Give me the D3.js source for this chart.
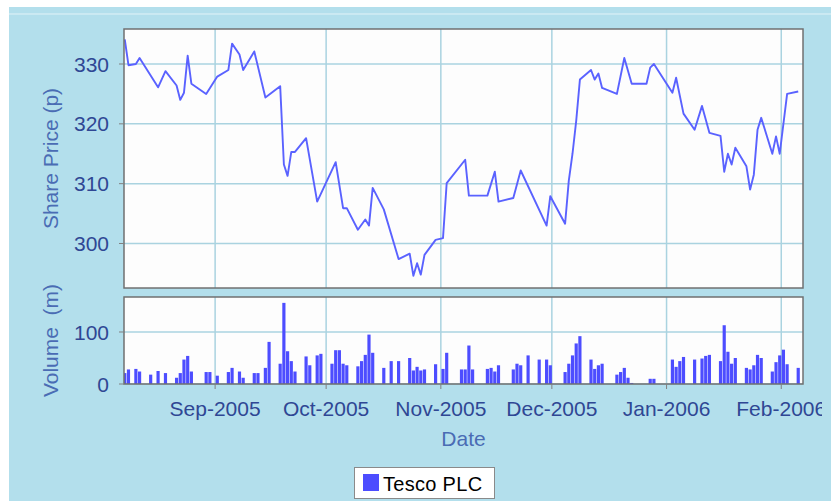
<!DOCTYPE html>
<html>
<head>
<meta charset="utf-8">
<title>Tesco PLC - Price and Volume</title>
<script src="https://cdn.jsdelivr.net/npm/d3@7"></script>
<style>
  body { margin: 0; background: #ffffff; }
  svg { display: block; font-family: "Liberation Sans", Arial, sans-serif; }
</style>
</head>
<body>
<div id="chart"></div>
<script>
// price series (only the days that show up as vertices on the line)
const priceDates = [
  "2005-08-08", "2005-08-09", "2005-08-11", "2005-08-12", "2005-08-17", "2005-08-19",
  "2005-08-22", "2005-08-23", "2005-08-24", "2005-08-25", "2005-08-26", "2005-08-30",
  "2005-09-02", "2005-09-05", "2005-09-06", "2005-09-08", "2005-09-09", "2005-09-12",
  "2005-09-15", "2005-09-19", "2005-09-20", "2005-09-21", "2005-09-22", "2005-09-23",
  "2005-09-26", "2005-09-29", "2005-10-04", "2005-10-06", "2005-10-07", "2005-10-10",
  "2005-10-12", "2005-10-13", "2005-10-14", "2005-10-17", "2005-10-21", "2005-10-24",
  "2005-10-25", "2005-10-26", "2005-10-27", "2005-10-28", "2005-10-31", "2005-11-02",
  "2005-11-03", "2005-11-08", "2005-11-09", "2005-11-14", "2005-11-16", "2005-11-17",
  "2005-11-21", "2005-11-23", "2005-11-30", "2005-12-01", "2005-12-05", "2005-12-06",
  "2005-12-07", "2005-12-08", "2005-12-09", "2005-12-12", "2005-12-13", "2005-12-14",
  "2005-12-15", "2005-12-19", "2005-12-21", "2005-12-23", "2005-12-27", "2005-12-28",
  "2005-12-29", "2006-01-03", "2006-01-04", "2006-01-06", "2006-01-09", "2006-01-11",
  "2006-01-13", "2006-01-16", "2006-01-17", "2006-01-18", "2006-01-19", "2006-01-20",
  "2006-01-23", "2006-01-24", "2006-01-25", "2006-01-26", "2006-01-27", "2006-01-30",
  "2006-01-31", "2006-02-01", "2006-02-03", "2006-02-06"
];
const priceValues = [
  334.1, 329.8, 330.0, 331.0, 326.1, 328.8,
  326.4, 324.0, 325.2, 331.4, 326.7, 325.0,
  327.9, 329.0, 333.4, 331.6, 329.0, 332.1,
  324.4, 326.3, 313.2, 311.3, 315.3, 315.3,
  317.6, 307.0, 313.6, 305.9, 305.9, 302.3,
  304.0, 303.0, 309.3, 305.7, 297.4, 298.3,
  294.6, 296.7, 294.8, 298.1, 300.6, 300.9,
  310.1, 314.0, 308.0, 308.0, 312.0, 307.0,
  307.6, 312.2, 303.0, 307.9, 303.3, 310.5,
  315.0, 320.5, 327.4, 329.0, 327.4, 328.4,
  326.0, 325.0, 331.0, 326.7, 326.7, 329.4,
  330.0, 325.2, 327.7, 321.7, 319.0, 323.0,
  318.5, 318.0, 312.0, 315.0, 313.2, 316.0,
  312.9, 309.0, 311.5, 319.0, 321.0, 315.0,
  317.9, 315.0, 325.0, 325.4
];

// volume series (millions of shares)
const volumeDates = [
  "2005-08-08", "2005-08-09", "2005-08-11", "2005-08-12", "2005-08-15", "2005-08-17",
  "2005-08-19", "2005-08-22", "2005-08-23", "2005-08-24", "2005-08-25", "2005-08-26",
  "2005-08-30", "2005-08-31", "2005-09-02", "2005-09-05", "2005-09-06", "2005-09-08",
  "2005-09-09", "2005-09-12", "2005-09-13", "2005-09-15", "2005-09-16", "2005-09-19",
  "2005-09-20", "2005-09-21", "2005-09-22", "2005-09-23", "2005-09-26", "2005-09-27",
  "2005-09-29", "2005-09-30", "2005-10-03", "2005-10-04", "2005-10-05", "2005-10-06",
  "2005-10-07", "2005-10-10", "2005-10-11", "2005-10-12", "2005-10-13", "2005-10-14",
  "2005-10-17", "2005-10-19", "2005-10-21", "2005-10-24", "2005-10-25", "2005-10-26",
  "2005-10-27", "2005-10-28", "2005-10-31", "2005-11-02", "2005-11-03", "2005-11-07",
  "2005-11-08", "2005-11-09", "2005-11-10", "2005-11-14", "2005-11-15", "2005-11-16",
  "2005-11-17", "2005-11-21", "2005-11-22", "2005-11-23", "2005-11-25", "2005-11-28",
  "2005-11-30", "2005-12-01", "2005-12-05", "2005-12-06", "2005-12-07", "2005-12-08",
  "2005-12-09", "2005-12-12", "2005-12-13", "2005-12-14", "2005-12-15", "2005-12-19",
  "2005-12-20", "2005-12-21", "2005-12-22", "2005-12-23", "2005-12-28", "2005-12-29",
  "2006-01-03", "2006-01-04", "2006-01-05", "2006-01-06", "2006-01-09", "2006-01-11",
  "2006-01-12", "2006-01-13", "2006-01-16", "2006-01-17", "2006-01-18", "2006-01-19",
  "2006-01-20", "2006-01-23", "2006-01-24", "2006-01-25", "2006-01-26", "2006-01-27",
  "2006-01-30", "2006-01-31", "2006-02-01", "2006-02-02", "2006-02-03", "2006-02-06"
];
const volumeValues = [
  21, 28, 29, 24, 18, 25,
  21, 12, 21, 47, 54, 24,
  23, 23, 16, 23, 31, 24,
  12, 21, 21, 31, 81, 39,
  156, 63, 44, 24, 53, 36,
  55, 58, 39, 65, 65, 39,
  36, 34, 44, 56, 95, 60,
  31, 44, 44, 50, 26, 33,
  26, 28, 38, 29, 60, 28,
  28, 74, 28, 29, 31, 24,
  36, 28, 39, 36, 55, 47,
  47, 36, 23, 39, 55, 78,
  92, 47, 29, 36, 39, 18,
  23, 31, 12, 2, 10, 10,
  47, 33, 44, 52, 47, 49,
  54, 56, 44, 113, 62, 39,
  50, 31, 28, 36, 56, 50,
  24, 42, 55, 66, 38, 31
];

const priceTicks = [300, 310, 320, 330];
const volumeTicks = [0, 100];
const seriesName = "Tesco PLC";

const W = 831, H = 501;
const plotLeft = 124, plotRight = 803;
const priceTop = 29, priceBottom = 288;
const volTop = 297, volBottom = 384;
const DAY = 864e5;

const parse = d3.utcParse("%Y-%m-%d");
const prices = priceDates.map((d, i) => ({ date: parse(d), value: priceValues[i] }));
const volumes = volumeDates.map((d, i) => ({ date: parse(d), value: volumeValues[i] }));

const svg = d3.select("#chart").append("svg")
  .attr("width", W).attr("height", H);

// background panel
svg.append("rect").attr("x", 9).attr("y", 7).attr("width", W - 9).attr("height", H - 7)
  .attr("fill", "#b3dfec");
svg.append("line").attr("x1", 9).attr("x2", W).attr("y1", 14).attr("y2", 14)
  .attr("stroke", "#e2f3f8").attr("stroke-width", 1);

const x = d3.scaleUtc()
  .domain([Date.UTC(2005, 7, 7, 19), Date.UTC(2006, 1, 7, 7)])
  .range([plotLeft, plotRight]);

// month gridlines (chart ticks sit a few hours after midnight)
const monthTicks = d3.utcMonth.range(new Date(Date.UTC(2005, 8, 1)), new Date(Date.UTC(2006, 1, 2)))
  .map(m => new Date(+m + 10 * 3600e3));

const yPrice = d3.scaleLinear().domain([292.56, 335.85]).range([priceBottom, priceTop]);
const yVol = d3.scaleLinear().domain([0, 167.3]).range([volBottom, volTop]);

const gridColor = "#aad3e0";
const tickColor = "#2f4794";
const labelColor = "#4a6cb4";
const borderColor = "#707070";

function plotBox(top, bottom) {
  svg.append("rect")
    .attr("x", plotLeft).attr("y", top)
    .attr("width", plotRight - plotLeft).attr("height", bottom - top)
    .attr("fill", "#fdfdfd");
}
plotBox(priceTop, priceBottom);
plotBox(volTop, volBottom);

// gridlines
function vGrid(top, bottom) {
  svg.append("g").selectAll("line").data(monthTicks).join("line")
    .attr("x1", d => x(d)).attr("x2", d => x(d))
    .attr("y1", top).attr("y2", bottom)
    .attr("stroke", gridColor).attr("stroke-width", 1.5);
}
vGrid(priceTop, priceBottom);
vGrid(volTop, volBottom);

svg.append("g").selectAll("line").data(priceTicks).join("line")
  .attr("x1", plotLeft).attr("x2", plotRight)
  .attr("y1", d => yPrice(d)).attr("y2", d => yPrice(d))
  .attr("stroke", gridColor).attr("stroke-width", 1.5);
svg.append("g").selectAll("line").data(volumeTicks).join("line")
  .attr("x1", plotLeft).attr("x2", plotRight)
  .attr("y1", d => yVol(d)).attr("y2", d => yVol(d))
  .attr("stroke", gridColor).attr("stroke-width", 1.5);

// clip paths
svg.append("clipPath").attr("id", "clipPrice").append("rect")
  .attr("x", plotLeft).attr("y", priceTop)
  .attr("width", plotRight - plotLeft).attr("height", priceBottom - priceTop);
svg.append("clipPath").attr("id", "clipVol").append("rect")
  .attr("x", plotLeft).attr("y", volTop)
  .attr("width", plotRight - plotLeft).attr("height", volBottom - volTop);
svg.append("clipPath").attr("id", "clipLabels").append("rect")
  .attr("x", 0).attr("y", 0).attr("width", 822).attr("height", H);

// price line
const line = d3.line().x(d => x(d.date)).y(d => yPrice(d.value));
svg.append("path")
  .datum(prices)
  .attr("clip-path", "url(#clipPrice)")
  .attr("d", line)
  .attr("fill", "none")
  .attr("stroke", "#5a62ff")
  .attr("stroke-width", 1.9)
  .attr("stroke-linejoin", "round");

// volume bars, one day wide, centred on the date
const barW = (x(new Date(DAY)) - x(new Date(0))) * 0.86;
svg.append("g").attr("clip-path", "url(#clipVol)")
  .selectAll("rect").data(volumes).join("rect")
  .attr("x", d => x(d.date) - barW / 2)
  .attr("y", d => yVol(d.value))
  .attr("width", barW)
  .attr("height", d => yVol(0) - yVol(d.value))
  .attr("fill", "#4d4dff");

// plot borders
[[priceTop, priceBottom], [volTop, volBottom]].forEach(([t, b]) => {
  svg.append("rect")
    .attr("x", plotLeft).attr("y", t)
    .attr("width", plotRight - plotLeft).attr("height", b - t)
    .attr("fill", "none").attr("stroke", borderColor).attr("stroke-width", 1.5);
});

// y axes
function yAxis(scale, ticks) {
  const g = svg.append("g");
  g.selectAll("line").data(ticks).join("line")
    .attr("x1", plotLeft - 5).attr("x2", plotLeft)
    .attr("y1", d => scale(d)).attr("y2", d => scale(d))
    .attr("stroke", "#808080").attr("stroke-width", 1);
  g.selectAll("text").data(ticks).join("text")
    .attr("x", 109).attr("y", d => scale(d))
    .attr("dy", "0.36em")
    .attr("text-anchor", "end")
    .attr("font-size", 21)
    .attr("fill", tickColor)
    .text(d => d);
}
yAxis(yPrice, priceTicks);
yAxis(yVol, volumeTicks);

// x axis
const xg = svg.append("g");
xg.selectAll("line").data(monthTicks).join("line")
  .attr("x1", d => x(d)).attr("x2", d => x(d))
  .attr("y1", volBottom).attr("y2", volBottom + 5)
  .attr("stroke", "#808080");
xg.append("g").attr("clip-path", "url(#clipLabels)")
  .selectAll("text").data(monthTicks).join("text")
  .attr("x", d => x(d)).attr("y", 415.5)
  .attr("text-anchor", "middle")
  .attr("font-size", 21)
  .attr("fill", tickColor)
  .text(d => d3.utcFormat("%b-%Y")(d));

// axis titles
svg.append("text")
  .attr("transform", `translate(58,${(priceTop + priceBottom) / 2}) rotate(-90)`)
  .attr("text-anchor", "middle")
  .attr("font-size", 21)
  .attr("fill", labelColor)
  .text("Share Price (p)");
svg.append("text")
  .attr("transform", `translate(58,${(volTop + volBottom) / 2}) rotate(-90)`)
  .attr("text-anchor", "middle")
  .attr("font-size", 21)
  .attr("fill", labelColor)
  .style("white-space", "pre")
  .text("Volume  (m)");
svg.append("text")
  .attr("x", (plotLeft + plotRight) / 2).attr("y", 446)
  .attr("text-anchor", "middle")
  .attr("font-size", 21)
  .attr("fill", labelColor)
  .text("Date");

// legend
const lg = svg.append("g");
lg.append("rect").attr("x", 354.5).attr("y", 467.5).attr("width", 140).attr("height", 31)
  .attr("fill", "#ffffff").attr("stroke", "#8a8a8a").attr("stroke-width", 1);
lg.append("rect").attr("x", 363).attr("y", 474).attr("width", 16).attr("height", 17)
  .attr("fill", "#4d4dff");
lg.append("text").attr("x", 383).attr("y", 491)
  .attr("font-size", 20).attr("fill", "#000000")
  .attr("letter-spacing", 0.3)
  .text(seriesName);
</script>
</body>
</html>
